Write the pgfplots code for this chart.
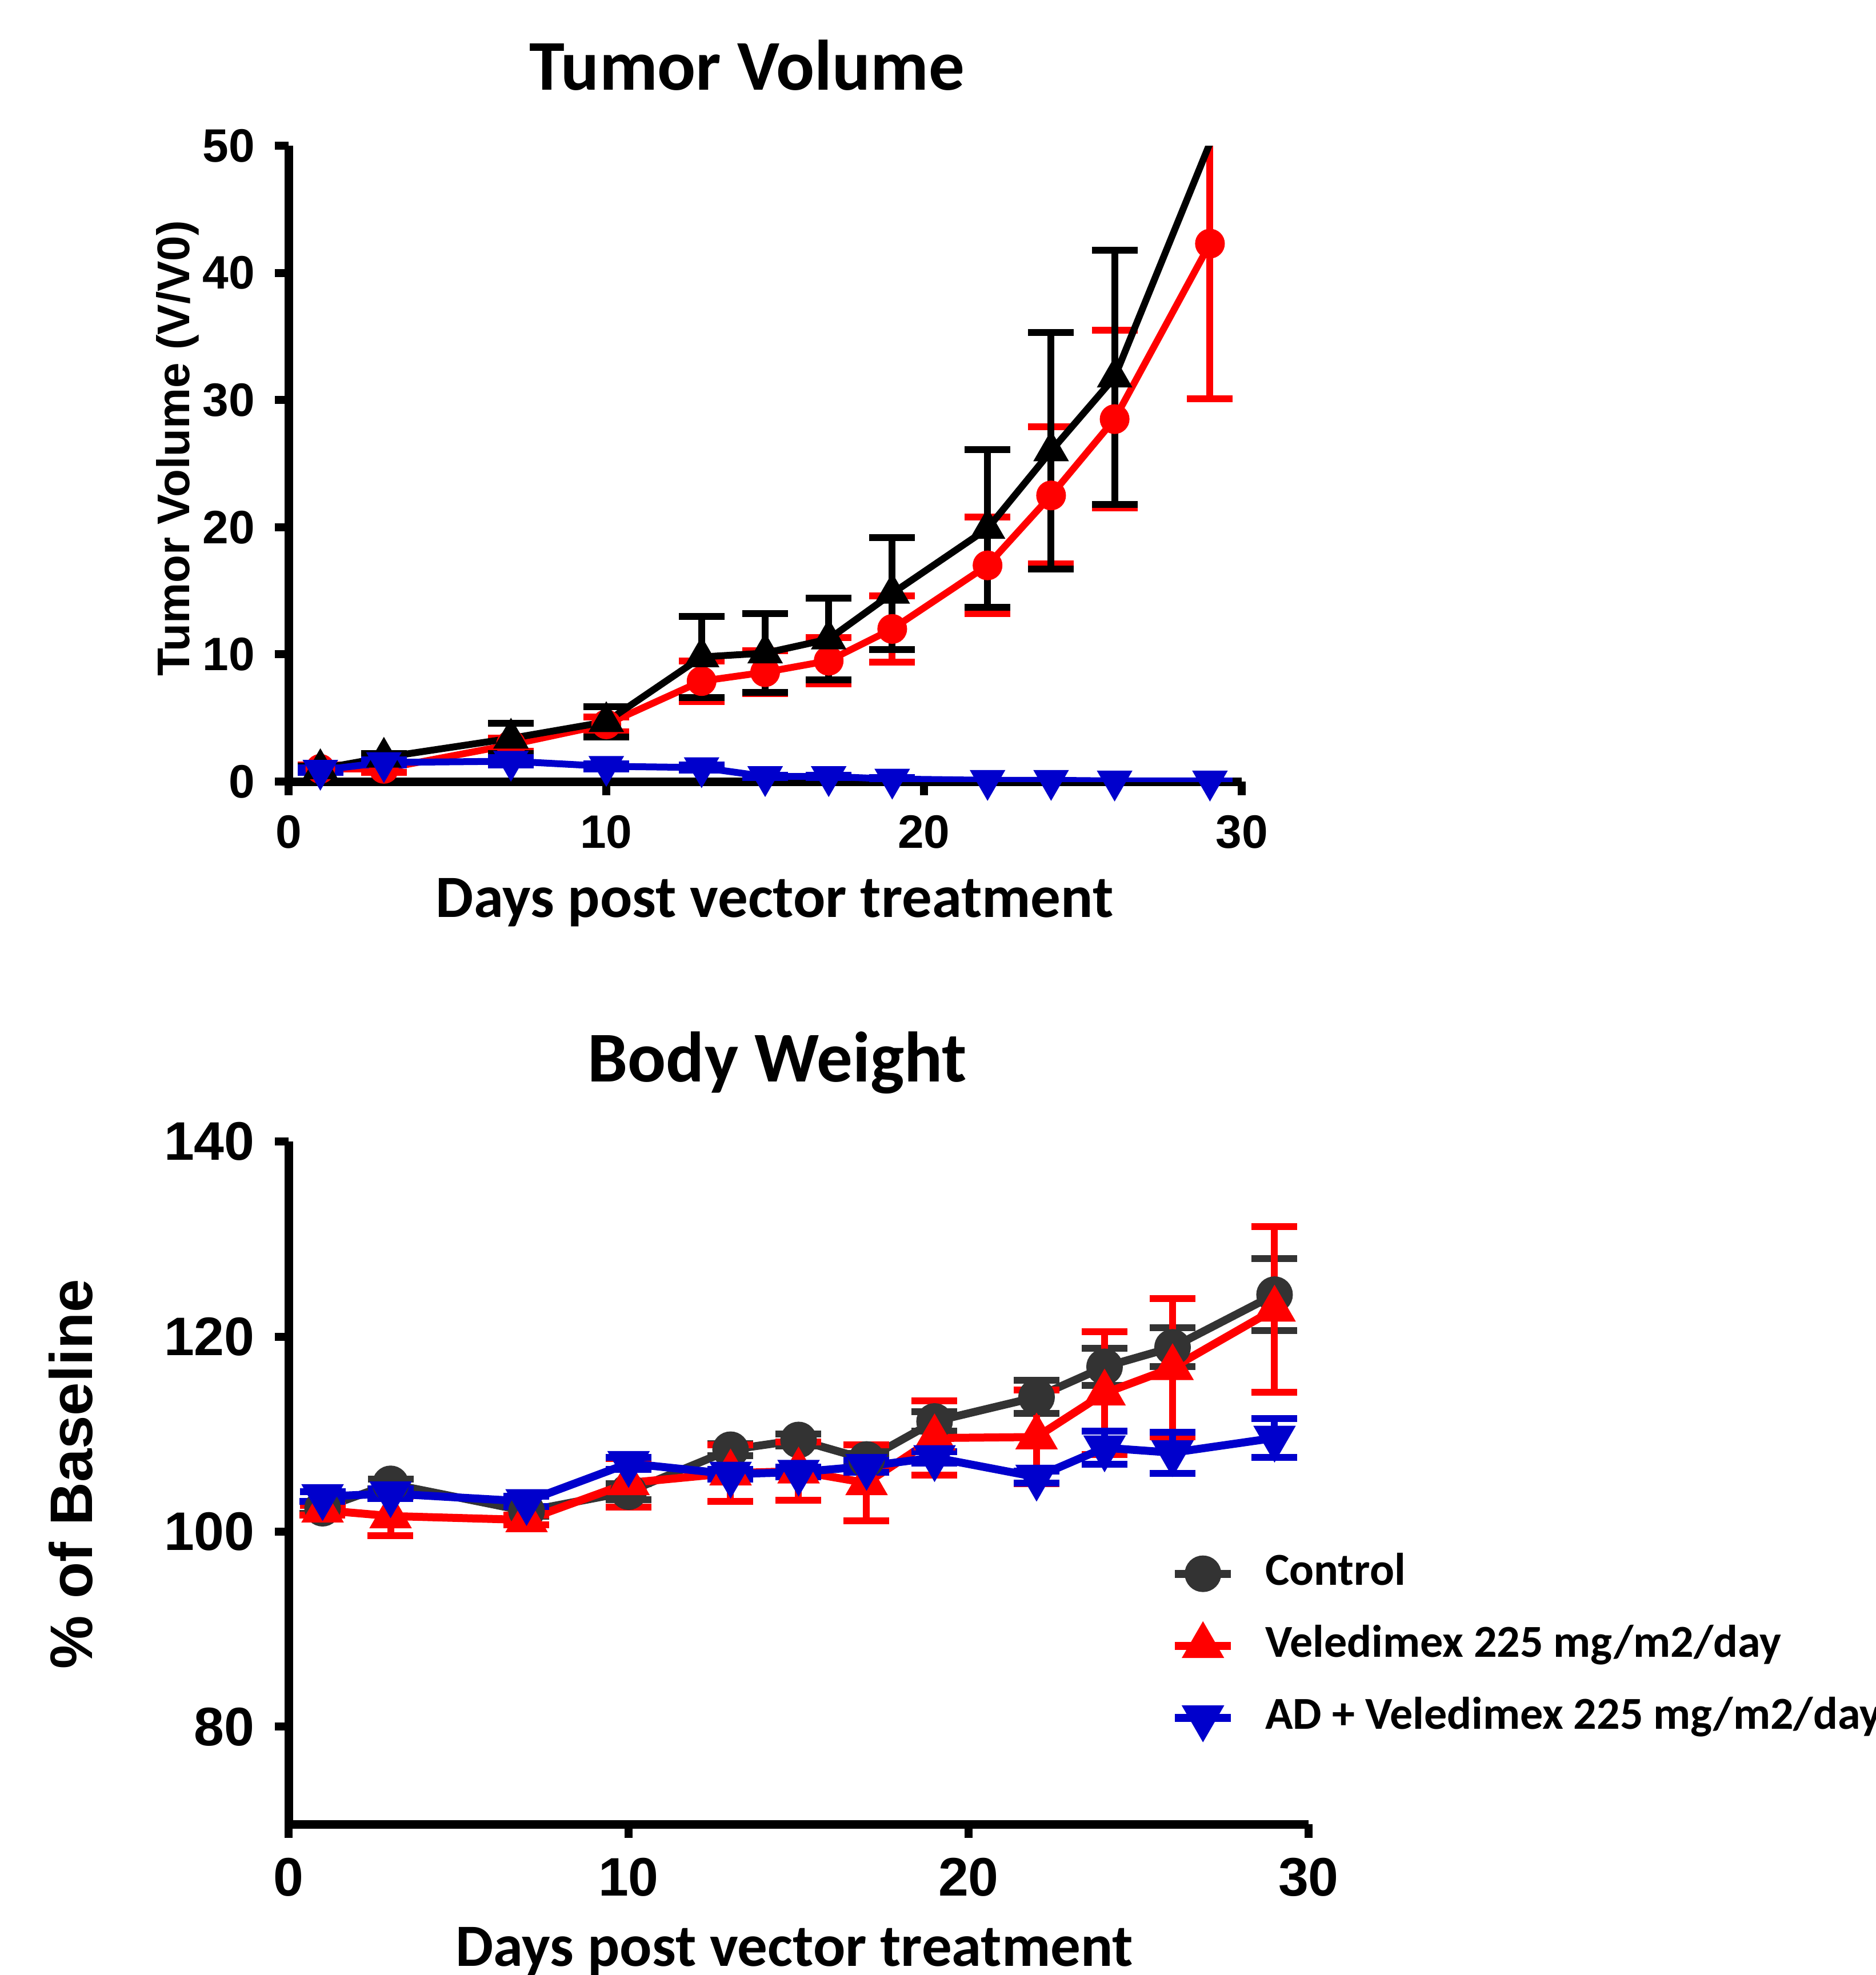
\documentclass[border=0pt]{standalone}
\usepackage{pgfplots}
\usepackage{pgfplotstable}
\pgfplotsset{compat=1.18}
\usepackage{fontspec}
\setmainfont{Carlito}
\newfontfamily\arialb{Liberation Sans}

\definecolor{ctrlgray}{RGB}{51,51,51}
\definecolor{adblue}{RGB}{0,0,204}

% tumor volume (V/V0): day, mean, sem
\pgfplotstableread{
d v e
1 1.0 0.3
3 1.0 0.3
7 2.9 0.5
10 4.5 0.6
13 7.9 1.6
15 8.6 1.7
17 9.5 1.8
19 12.0 2.6
22 17.0 3.8
24 22.5 5.4
26 28.5 7.0
29 42.3 12.2
}\tvRed
\pgfplotstableread{
d v e
1 1.0 0.2
3 1.9 0.3
7 3.4 1.2
10 4.7 1.2
13 9.8 3.2
15 10.1 3.1
17 11.2 3.2
19 14.8 4.4
22 19.9 6.2
24 26.0 9.3
26 31.8 10.0
29 50.2 0
}\tvBlack
\pgfplotstableread{
d v e
1 0.9 0.2
3 1.5 0.2
7 1.6 0.3
10 1.2 0.2
13 1.1 0.2
15 0.4 0.1
17 0.4 0.1
19 0.2 0.1
22 0.1 0
24 0.1 0
26 0.05 0
29 0.05 0
}\tvBlue

% body weight (% of baseline)
\pgfplotstableread{
d v e
1 102.4 0.5
3 104.9 0.5
7 102.1 0.5
10 104.1 0.8
13 108.4 0.6
15 109.4 0.6
17 107.4 0.6
19 111.3 1.0
22 113.8 1.7
24 116.9 1.9
26 118.9 2.0
29 124.3 3.7
}\bwCtrl
\pgfplotstableread{
d v e
1 102.2 0.5
3 101.6 2.0
7 101.2 0.5
10 105.0 2.5
13 106.0 2.9
15 106.2 3.0
17 105.0 3.9
19 109.6 3.8
22 109.7 4.8
24 114.2 6.3
26 116.8 7.1
29 122.8 8.5
}\bwVel
\pgfplotstableread{
d v e
1 103.6 0.5
3 103.9 0.5
7 103.1 0.5
10 107.0 0.6
13 105.9 0.5
15 106.1 0.5
17 106.7 0.6
19 107.6 0.6
22 105.6 0.6
24 108.6 1.7
26 108.1 2.1
29 109.6 2.0
}\bwAD

\pgfplotsset{
  prism/.style={
    scale only axis, anchor=south west,
    axis lines=left, axis line style={-, line width=1.5pt},
    tick align=outside, major tick length=2.4pt,
    tick style={black, line width=1.4pt},
    xmin=0, xmax=30, xtick={0,10,20,30},
    /pgf/number format/assume math mode=true,
    every axis title shift=0pt,
    title style={font=\bfseries\fontsize{12.5}{15}\selectfont, anchor=base},
    xlabel style={font=\bfseries\fontsize{10.5}{12.6}\selectfont, anchor=base},
    error bars/y dir=both, error bars/y explicit,
    error bars/error bar style={line width=1.2pt, solid},
    error bars/error mark options={rotate=90, mark size=4pt, line width=1.2pt},
  },
}

\begin{document}
\begin{tikzpicture}
\useasboundingbox (0pt,0pt) rectangle (328.3pt,-345.7pt);

% Tumor Volume
\begin{axis}[prism,
  at={(50.5pt,-136.8pt)}, width=166.8pt, height=111.3pt,
  ymin=0, ymax=50, ytick={0,10,...,50},
  tick label style={font=\arialb\bfseries\fontsize{8.2}{9.8}\selectfont},
  title={Tumor Volume},
  title style={at={(axis description cs:0.481,1)}, yshift=9.8pt},
  xlabel={Days post vector treatment},
  xlabel style={at={(axis description cs:0.510,-0.2138)}},
  ylabel={Tumor Volume (V/V0)},
  ylabel style={font=\arialb\bfseries\fontsize{8}{9.6}\selectfont,
    at={(axis description cs:-0.1043,0.524)}, anchor=base},
]
\addplot[red, line width=1.2pt, mark=*, mark size=2pt]
  table[x=d, y=v, y error=e] {\tvRed};
% last point runs off the top: line only, no mark or bar
\addplot[black, line width=1.2pt, mark=triangle*, mark size=2.4pt]
  table[x=d, y=v, y error=e, skip coords between index={11}{12}] {\tvBlack};
\addplot[black, line width=1.2pt, mark=none, forget plot, error bars/y dir=none]
  table[x=d, y=v, skip coords between index={0}{10}] {\tvBlack};
\addplot[adblue, line width=1.2pt, mark=triangle*, mark size=2.4pt,
  mark options={rotate=180}]
  table[x=d, y=v, y error=e] {\tvBlue};
\end{axis}

% Body Weight
\begin{axis}[prism,
  at={(50.5pt,-319.3pt)}, width=178.5pt, height=119.5pt,
  ymin=70, ymax=140, ytick={80,100,120,140},
  tick label style={font=\arialb\bfseries\fontsize{9.5}{11.4}\selectfont},
  title={Body Weight},
  title style={at={(axis description cs:0.479,1)}, yshift=10.5pt},
  xlabel={Days post vector treatment},
  xlabel style={at={(axis description cs:0.496,-0.2075)}},
  ylabel={\% of Baseline},
  ylabel style={font=\arialb\bfseries\fontsize{10.5}{12.6}\selectfont,
    at={(axis description cs:-0.1927,0.513)}, anchor=base},
  legend cell align=left,
  legend style={at={(0.864,0.402)}, anchor=north west, draw=none, fill=none,
    inner sep=0pt, row sep=4.6pt, column sep=5.3pt,
    font=\bfseries\fontsize{8}{9.6}\selectfont,
    nodes={inner sep=0pt, text height=6pt, text depth=2pt}},
  legend image code/.code={
    \draw[#1, mark repeat=2, mark phase=2]
      plot coordinates {(0pt,0pt) (4.9pt,0pt) (9.8pt,0pt)};},
]
\addplot[ctrlgray, line width=1.4pt, mark=*, mark size=2.5pt]
  table[x=d, y=v, y error=e] {\bwCtrl};
\addplot[red, line width=1.4pt, mark=triangle*, mark size=2.9pt]
  table[x=d, y=v, y error=e] {\bwVel};
\addplot[adblue, line width=1.4pt, mark=triangle*, mark size=2.9pt,
  mark options={rotate=180}]
  table[x=d, y=v, y error=e] {\bwAD};
\legend{Control, Veledimex 225 mg/m2/day, AD + Veledimex 225 mg/m2/day}
\end{axis}
\end{tikzpicture}
\end{document}
